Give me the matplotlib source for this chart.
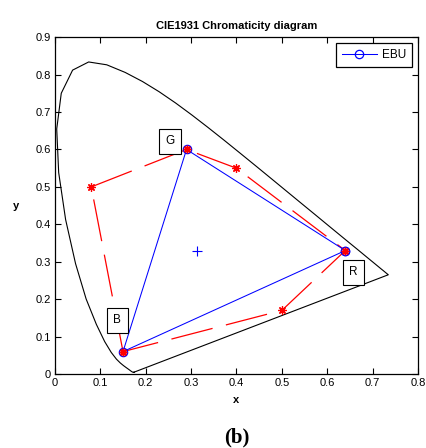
import numpy as np
import matplotlib.pyplot as plt

plt.rcParams['font.family'] = ['Liberation Sans', 'DejaVu Sans']

# CIE 1931 spectral locus (5 nm steps, 380-700 nm)
locus_x = [0.1741, 0.1740, 0.1738, 0.1736, 0.1733, 0.1730, 0.1726, 0.1721, 0.1714, 0.1703,
           0.1689, 0.1669, 0.1644, 0.1611, 0.1566, 0.1510, 0.1440, 0.1355, 0.1241, 0.1096,
           0.0913, 0.0687, 0.0454, 0.0235, 0.0082, 0.0039, 0.0139, 0.0389, 0.0743, 0.1142,
           0.1547, 0.1929, 0.2296, 0.2658, 0.3016, 0.3373, 0.3731, 0.4087, 0.4441, 0.4788,
           0.5125, 0.5448, 0.5752, 0.6029, 0.6270, 0.6482, 0.6658, 0.6801, 0.6915, 0.7006,
           0.7079, 0.7140, 0.7190, 0.7230, 0.7260, 0.7283, 0.7300, 0.7311, 0.7320, 0.7327,
           0.7334, 0.7340, 0.7344, 0.7346, 0.7347]
locus_y = [0.0050, 0.0050, 0.0049, 0.0049, 0.0048, 0.0048, 0.0048, 0.0048, 0.0051, 0.0058,
           0.0069, 0.0086, 0.0109, 0.0138, 0.0177, 0.0227, 0.0297, 0.0399, 0.0578, 0.0868,
           0.1327, 0.2007, 0.2950, 0.4127, 0.5384, 0.6548, 0.7502, 0.8120, 0.8338, 0.8262,
           0.8059, 0.7816, 0.7543, 0.7243, 0.6923, 0.6589, 0.6245, 0.5896, 0.5547, 0.5202,
           0.4866, 0.4544, 0.4242, 0.3965, 0.3725, 0.3514, 0.3340, 0.3197, 0.3083, 0.2993,
           0.2920, 0.2859, 0.2809, 0.2770, 0.2740, 0.2717, 0.2700, 0.2689, 0.2680, 0.2673,
           0.2666, 0.2660, 0.2656, 0.2654, 0.2653]

# EBU primaries (R, G, B) and white point
ebu_x = [0.64, 0.29, 0.15]
ebu_y = [0.33, 0.60, 0.06]
white = (0.3127, 0.329)

# red dashed gamut
gamut_x = [0.15, 0.08, 0.29, 0.40, 0.64, 0.50, 0.15]
gamut_y = [0.06, 0.50, 0.60, 0.55, 0.33, 0.17, 0.06]

labels = ['G', 'R', 'B']
label_pos = [(0.254, 0.622), (0.658, 0.272), (0.137, 0.144)]

fig = plt.figure(figsize=(4.26, 4.48), dpi=100)
ax = fig.add_axes([0.129, 0.165, 0.852, 0.752])

ax.plot(locus_x + [locus_x[0]], locus_y + [locus_y[0]], color='black', linewidth=0.8)

ax.plot(gamut_x, gamut_y, color='red', linewidth=0.9, dashes=(34, 11),
        marker=(8, 2, 0), markersize=6, markeredgewidth=0.9)

ax.plot(ebu_x + [ebu_x[0]], ebu_y + [ebu_y[0]], color='blue', linewidth=0.75,
        marker='o', markersize=6, markerfacecolor='none', markeredgewidth=0.9, label='EBU')
ax.plot(ebu_x, ebu_y, linestyle='none', marker=(8, 2, 0), color='red', markersize=5.5,
        markeredgewidth=1.0)
ax.plot(white[0], white[1], marker='+', color='blue', markersize=7.5, markeredgewidth=0.8)

for lab, (lx, ly) in zip(labels, label_pos):
    ax.text(lx, ly, lab, ha='center', va='center', fontsize=8.5,
            bbox=dict(boxstyle='square,pad=0.55', facecolor='white', edgecolor='black', linewidth=0.8))

ax.set_xlim(0, 0.8)
ax.set_ylim(0, 0.9)
ax.set_xticks(np.arange(0, 0.81, 0.1))
ax.set_yticks(np.arange(0, 0.91, 0.1))
ax.set_xticklabels(['0', '0.1', '0.2', '0.3', '0.4', '0.5', '0.6', '0.7', '0.8'])
ax.set_yticklabels(['0', '0.1', '0.2', '0.3', '0.4', '0.5', '0.6', '0.7', '0.8', '0.9'])
ax.tick_params(direction='in', top=True, right=True, length=4, width=0.8, labelsize=8, pad=3)
for s in ax.spines.values():
    s.set_linewidth(0.9)

ax.set_xlabel('x', fontsize=8, fontweight='bold', labelpad=5)
ax.set_ylabel('y', fontsize=8, fontweight='bold', rotation=0, labelpad=14, va='center')
ax.set_title('CIE1931 Chromaticity diagram', fontsize=8, fontweight='bold', pad=6)

leg = ax.legend(loc='upper right', fontsize=8.5, fancybox=False, framealpha=1,
                edgecolor='black', handlelength=3.0, borderpad=0.5, handletextpad=0.4)
leg.get_frame().set_linewidth(0.9)

fig.text(0.557, 0.024, '(b)', ha='center', va='center', fontsize=15, fontweight='bold',
         family=['Liberation Serif', 'DejaVu Serif'])

fig.savefig('out.png', dpi=100)
